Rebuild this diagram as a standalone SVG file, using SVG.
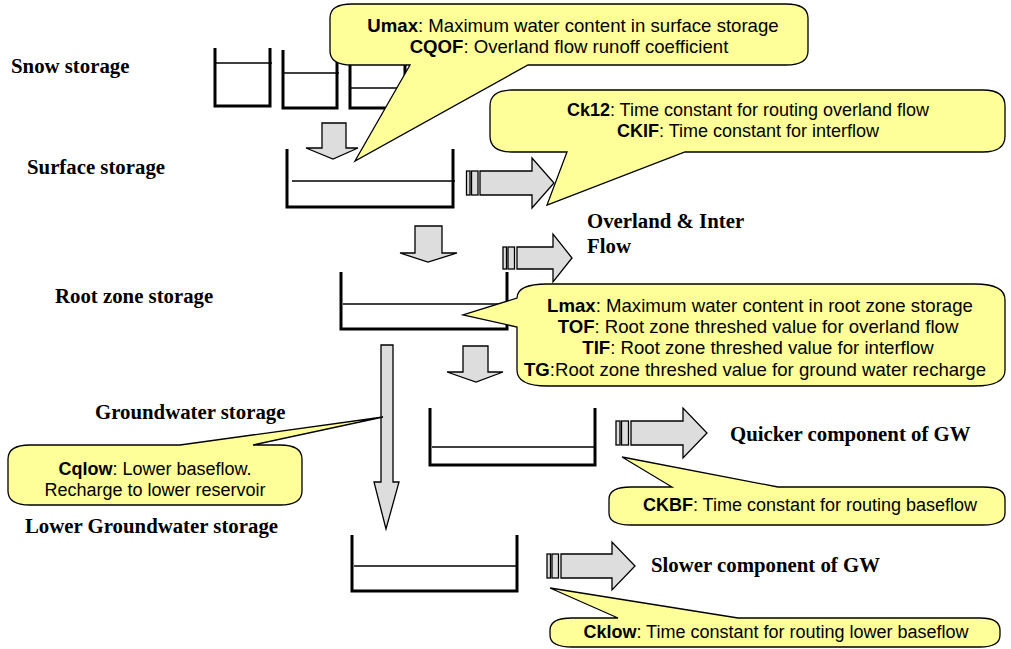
<svg xmlns="http://www.w3.org/2000/svg" width="1011" height="649" viewBox="0 0 1011 649">
<defs>
<style>
.bk{fill:none;stroke:#000;stroke-width:3;stroke-linejoin:miter}
.wl{fill:none;stroke:#000;stroke-width:1.6}
.ar{fill:#DDDDDD;stroke:#000;stroke-width:1.3;stroke-linejoin:miter}
.co{fill:#FFFF99;stroke:#000;stroke-width:1.3;stroke-linejoin:miter}
.lb{font-family:"Liberation Serif","Times New Roman",serif;font-weight:bold;font-size:20.8px;fill:#000}
.ct{font-family:"Liberation Sans",Arial,sans-serif;font-size:18px;fill:#000;text-anchor:middle}
.big{font-size:18.6px}
.b{font-weight:bold}
</style>
</defs>
<rect width="1011" height="649" fill="#fff"/>

<g id="snow-storage">
<path class="bk" d="M215,48 V106 H270 V48"/>
<line class="wl" x1="215" y1="63" x2="272" y2="63"/>
<path class="bk" d="M283,50 V108 H337 V50"/>
<line class="wl" x1="283" y1="73" x2="339" y2="73"/>
<path class="bk" d="M350,50 V108 H405 V50"/>
<line class="wl" x1="350" y1="88" x2="405" y2="88"/>
<text class="lb" x="11" y="73">Snow storage</text>
</g>

<g id="surface-storage">
<path class="bk" d="M287,149 V207 H453 V149"/>
<line class="wl" x1="292" y1="181" x2="455" y2="181"/>
<text class="lb" x="27" y="174">Surface storage</text>
</g>

<g id="root-zone-storage">
<path class="bk" d="M341,272 V329 H507 V272"/>
<line class="wl" x1="343" y1="304" x2="507" y2="304"/>
<text class="lb" x="55" y="303">Root zone storage</text>
</g>

<g id="groundwater-storage">
<path class="bk" d="M430,408 V465 H595 V408"/>
<line class="wl" x1="432" y1="447" x2="595" y2="447"/>
<text class="lb" x="95" y="419">Groundwater storage</text>
</g>

<g id="lower-groundwater-storage">
<path class="bk" d="M352,535 V591 H517 V535"/>
<line class="wl" x1="354" y1="566" x2="517" y2="566"/>
<text class="lb" x="25" y="533">Lower Groundwater storage</text>
</g>

<g id="overland-inter-flow">
<text class="lb" x="587" y="228">Overland &amp; Inter</text>
<text class="lb" x="587" y="253">Flow</text>
</g>

<g id="quicker-component">
<text class="lb" x="730" y="441">Quicker component of GW</text>
</g>

<g id="slower-component">
<text class="lb" x="651" y="572">Slower component of GW</text>
</g>

<g id="connectors">
<path class="ar" d="M322,123 H346 V148 H358 L333,159 L306,148 H322 Z"/>
<path class="ar" d="M415,226 H442 V253 H457 L428,262 L400,253 H415 Z"/>
<path class="ar" d="M381,345 H393 V482 H399 L386,529 L374,482 H381 Z"/>
<path class="ar" d="M463,346 H488 V372 H503 L476,382 L447,372 H463 Z"/>
<rect class="ar" x="466.5" y="171" width="3.5" height="24"/>
<rect class="ar" x="471.5" y="171" width="6.5" height="24"/>
<path class="ar" d="M480,171 H532 V158 L554,183 L532,208 V195 H480 Z"/>
<rect class="ar" x="503" y="247" width="3.5" height="22"/>
<rect class="ar" x="508" y="247" width="6.5" height="22"/>
<path class="ar" d="M517,247 H553 V234 L572,258 L553,282 V269 H517 Z"/>
<rect class="ar" x="616" y="421" width="4" height="24"/>
<rect class="ar" x="621.5" y="421" width="7" height="24"/>
<path class="ar" d="M631,421 H683 V408 L707,433 L683,458 V445 H631 Z"/>
<rect class="ar" x="547" y="554" width="3.5" height="24"/>
<rect class="ar" x="552" y="554" width="6.5" height="24"/>
<path class="ar" d="M561,554 H612 V542 L635,566 L612,590 V578 H561 Z"/>
</g>

<g id="callout-umax">
<path class="co" d="M352,4 H786 Q808,4 808,18 V51 Q808,65 786,65 H528 L355,161 L410,65 H352 Q330,65 330,51 V18 Q330,4 352,4 Z"/>
<text class="ct big" x="573" y="32"><tspan class="b">Umax</tspan>: Maximum water content in surface storage</text>
<text class="ct big" x="569" y="53"><tspan class="b">CQOF</tspan>: Overland flow runoff coefficient</text>
</g>

<g id="callout-ck12">
<path class="co" d="M512,90 H983 Q1005,90 1005,106 V136 Q1005,152 983,152 H685 L547,205 L567,152 H512 Q490,152 490,136 V106 Q490,90 512,90 Z"/>
<text class="ct" x="748" y="116"><tspan class="b">Ck12</tspan>: Time constant for routing overland flow</text>
<text class="ct" x="748" y="137"><tspan class="b">CKIF</tspan>: Time constant for interflow</text>
</g>

<g id="callout-lmax">
<path class="co" d="M547,284 H975 Q1005,284 1005,300 V370 Q1005,386 975,386 H547 Q517,386 517,370 V327 L463,315 L517,298 Q517,284 547,284 Z"/>
<text class="ct big" x="760" y="312"><tspan class="b">Lmax</tspan>: Maximum water content in root zone storage</text>
<text class="ct big" x="758" y="333"><tspan class="b">TOF</tspan>: Root zone threshed value for overland flow</text>
<text class="ct big" x="758" y="354"><tspan class="b">TIF</tspan>: Root zone threshed value for interflow</text>
<text class="ct big" x="755" y="376"><tspan class="b">TG</tspan>:Root zone threshed value for ground water recharge</text>
</g>

<g id="callout-cqlow">
<path class="co" d="M30,445 H180 L383,417 L253,445 H280 Q302,445 302,459 V491 Q302,505 280,505 H30 Q8,505 8,491 V459 Q8,445 30,445 Z"/>
<text class="ct" x="155" y="475"><tspan class="b">Cqlow</tspan>: Lower baseflow.</text>
<text class="ct" x="155" y="496">Recharge to lower reservoir</text>
</g>

<g id="callout-ckbf">
<path class="co" d="M631,487 H672 L622,457 L778,487 H983 Q1005,487 1005,499 V513 Q1005,525 983,525 H631 Q609,525 609,513 V499 Q609,487 631,487 Z"/>
<text class="ct" x="810" y="511"><tspan class="b">CKBF</tspan>: Time constant for routing baseflow</text>
</g>

<g id="callout-cklow">
<path class="co" d="M572,618 H618 L550,588 L738,618 H980 Q1000,618 1000,630 V635 Q1000,647 980,647 H572 Q550,647 550,635 V630 Q550,618 572,618 Z"/>
<text class="ct" x="776" y="638"><tspan class="b">Cklow</tspan>: Time constant for routing lower baseflow</text>
</g>
</svg>
